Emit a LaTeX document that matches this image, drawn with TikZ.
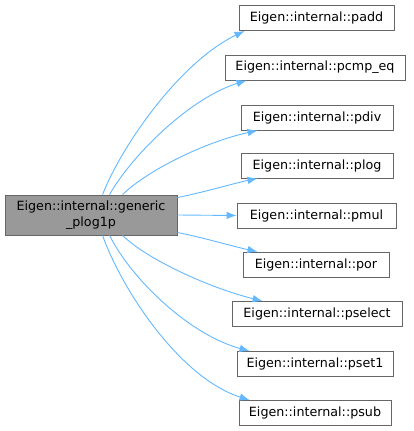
\documentclass[tikz,border=0pt]{standalone}
\usepackage{fontspec}
\setmainfont{DejaVu Sans}
\usetikzlibrary{arrows.meta,calc}
\definecolor{edgeblue}{HTML}{63B8FF}
\definecolor{boxborder}{HTML}{666666}
\definecolor{srcfill}{HTML}{999999}
\tikzset{
  rbox/.style={draw=boxborder, fill=white, line width=0.9pt, inner sep=0pt, minimum height=25pt, align=center, font=\fontsize{12.7}{15.5}\selectfont},
  srcbox/.style={draw=boxborder, fill=srcfill, line width=0.9pt, inner sep=0pt, minimum width=172pt, minimum height=40pt, align=center, font=\fontsize{12.7}{15.5}\selectfont},
  edge/.style={draw=edgeblue, line width=0.9pt, -{Latex[length=10pt,width=7.5pt]}}
}
\begin{document}
\begin{tikzpicture}[x=1pt,y=-1pt]
\useasboundingbox (0,0) rectangle (413,431);
\node[srcbox] (src) at (91,215) {Eigen::internal::generic\\\_plog1p};
\node[rbox, minimum width=155pt] (padd) at (316.5,18) {Eigen::internal::padd};
\node[rbox, minimum width=180pt] (pcmp) at (315,67.5) {Eigen::internal::pcmp\_eq};
\node[rbox, minimum width=152pt] (pdiv) at (317,117.5) {Eigen::internal::pdiv};
\node[rbox, minimum width=152pt] (plog) at (317,165.5) {Eigen::internal::plog};
\node[rbox, minimum width=159pt] (pmul) at (316.5,215.5) {Eigen::internal::pmul};
\node[rbox, minimum width=146pt] (por) at (316,264.5) {Eigen::internal::por};
\node[rbox, minimum width=170pt] (psel) at (317,314) {Eigen::internal::pselect};
\node[rbox, minimum width=156pt] (pset) at (315,364) {Eigen::internal::pset1};
\node[rbox, minimum width=152pt] (psub) at (315,413) {Eigen::internal::psub};

\draw[edge] ($(src.north west)+(98,0)$) .. controls (122,145) and (180,62) .. ($(padd.south west)+(6,0)$);
\draw[edge] ($(src.north west)+(105,0)$) .. controls (132,155) and (190,98) .. ($(pcmp.south west)+(22,0)$);
\draw[edge] ($(src.north west)+(118,0)$) .. controls (148,170) and (205,142) .. ($(pdiv.south west)+(17,0)$);
\draw[edge] ($(src.north east)+(0,3)$) .. controls (205,192) and (235,183) .. ($(plog.south west)+(17,0)$);
\draw[edge] (src.east) -- (pmul.west);
\draw[edge] ($(src.south east)+(0,-3)$) .. controls (205,238) and (235,247) .. ($(por.north west)+(15,0)$);
\draw[edge] ($(src.south west)+(118,0)$) .. controls (148,260) and (210,288) .. ($(psel.north west)+(31,0)$);
\draw[edge] ($(src.south west)+(105,0)$) .. controls (132,280) and (190,335) .. ($(pset.north west)+(13,0)$);
\draw[edge] ($(src.south west)+(98,0)$) .. controls (122,290) and (180,378) .. ($(psub.north west)+(11,0)$);
\end{tikzpicture}
\end{document}
